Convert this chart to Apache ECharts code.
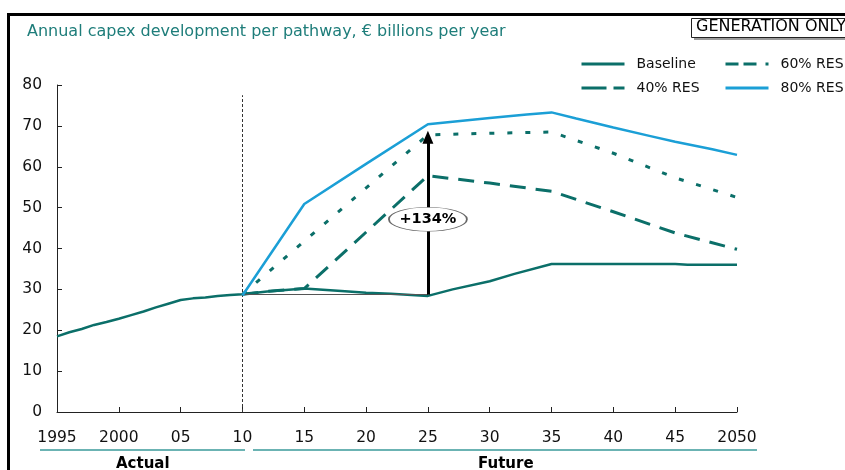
<!DOCTYPE html>
<html>
<head>
<meta charset="utf-8">
<script src="https://cdn.jsdelivr.net/npm/echarts@6/dist/echarts.min.js"></script>
<style>
  html, body { margin: 0; padding: 0; background: #fff; }
  #chart { width: 845px; height: 470px; }
</style>
</head>
<body>
<div id="chart"></div>
<script>
// Year ticks and their printed labels
const xTicks = [1995, 2000, 2005, 2010, 2015, 2020, 2025, 2030, 2035, 2040, 2045, 2050];
const xTickLabels = ['1995', '2000', '05', '10', '15', '20', '25', '30', '35', '40', '45', '2050'];

// Baseline: actual history 1995-2010, then projected path
const baselineYears = [1995, 1996, 1997, 1998, 1999, 2000, 2001, 2002, 2003, 2004, 2005, 2006, 2007, 2008, 2009, 2010,
  2012, 2015, 2018, 2020, 2022, 2025, 2027, 2030, 2032, 2035, 2040, 2045, 2046, 2050];
const baselineValues = [18.5, 19.5, 20.3, 21.3, 22.0, 22.8, 23.7, 24.6, 25.6, 26.5, 27.4, 27.8, 28.0, 28.4, 28.6, 28.8,
  29.5, 30.2, 29.6, 29.2, 28.9, 28.4, 30.0, 32.0, 33.8, 36.2, 36.2, 36.2, 36.0, 36.0];

// 40% RES pathway
const res40Years = [2010, 2012, 2015, 2025, 2030, 2035, 2040, 2045, 2050];
const res40Values = [28.8, 29.5, 30.2, 57.8, 56.0, 54.0, 49.0, 43.8, 39.8];

// 60% RES pathway
const res60Years = [2010, 2025, 2030, 2035, 2040, 2045, 2050];
const res60Values = [28.8, 67.8, 68.2, 68.5, 63.3, 57.3, 52.5];

// 80% RES pathway
const res80Years = [2010, 2015, 2020, 2025, 2027, 2030, 2033, 2035, 2037, 2040, 2043, 2045, 2048, 2050];
const res80Values = [28.5, 50.9, 60.7, 70.4, 71.0, 71.9, 72.8, 73.3, 71.8, 69.6, 67.5, 66.1, 64.3, 62.9];

// Growth arrow in 2025: from the 2010 baseline level up to the 60% RES level
const arrowYear = 2025;
const arrowBase = 28.7;
const arrowTop = 67.2;
const arrowLabel = '+' + Math.round((arrowTop / arrowBase - 1) * 100) + '%';

// Split between actual and future years
const splitYear = 2010;

const TEAL = '#0b6f69';
const BLUE = '#1b9fd6';
const FONT = 'DejaVu Sans, Verdana, sans-serif';

const pairs = (xs, ys) => xs.map((x, i) => [x, ys[i]]);

const chart = echarts.init(document.getElementById('chart'), null, { renderer: 'canvas' });

const legendBase = {
  top: 57, orient: 'vertical', itemGap: 10, padding: 0,
  itemWidth: 43, itemHeight: 14,
  itemStyle: { opacity: 0 },
  textStyle: { fontSize: 14, color: '#111', fontFamily: FONT, padding: [0, 0, 0, 7] }
};

chart.setOption({
  animation: false,
  backgroundColor: '#fff',
  textStyle: { fontFamily: FONT },
  title: {
    text: 'Annual capex development per pathway, € billions per year',
    left: 22, top: 19,
    textStyle: { color: '#1e7d7a', fontSize: 16, fontWeight: 'normal', fontFamily: FONT }
  },
  legend: [
    Object.assign({}, legendBase, {
      left: 580,
      data: [
        { name: 'Baseline', lineStyle: { width: 3 } },
        { name: '40% RES', lineStyle: { type: [25, 7], width: 3 } }
      ]
    }),
    Object.assign({}, legendBase, {
      left: 724,
      data: [
        { name: '60% RES', lineStyle: { type: [13, 5, 13, 9, 3], width: 3 } },
        { name: '80% RES', lineStyle: { width: 3 } }
      ]
    })
  ],
  grid: { left: 57, right: 108, top: 85, bottom: 58, containLabel: false },
  xAxis: {
    type: 'value', min: 1995, max: 2050, interval: 5,
    axisLine: { show: true, lineStyle: { color: '#222', width: 1 } },
    axisTick: { show: true, inside: true, length: 5, lineStyle: { color: '#222' } },
    splitLine: { show: false },
    axisLabel: {
      margin: 18, fontSize: 15.5, color: '#111', fontFamily: FONT,
      formatter: v => { const i = xTicks.indexOf(v); return i >= 0 ? xTickLabels[i] : ''; }
    }
  },
  yAxis: {
    type: 'value', min: 0, max: 80, interval: 10,
    axisLine: { show: true, lineStyle: { color: '#222', width: 1 } },
    axisTick: { show: true, inside: true, length: 5, lineStyle: { color: '#222' } },
    splitLine: { show: false },
    axisLabel: { margin: 15, fontSize: 15.5, color: '#111', fontFamily: FONT }
  },
  series: [
    {
      name: 'Baseline', type: 'line', symbol: 'none', z: 4,
      data: pairs(baselineYears, baselineValues),
      lineStyle: { color: TEAL, width: 2.5 }, itemStyle: { color: TEAL },
      markLine: {
        silent: true, symbol: ['none', 'none'], label: { show: false },
        data: [
          [{ coord: [splitYear, 0], lineStyle: { color: '#333', width: 1, type: [3, 2] } },
           { coord: [splitYear, 77.5] }],
          [{ coord: [splitYear, arrowBase], lineStyle: { color: '#555', width: 1, type: 'solid' } },
           { coord: [arrowYear, arrowBase] }]
        ]
      }
    },
    {
      name: '60% RES', type: 'line', symbol: 'none', z: 3,
      data: pairs(res60Years, res60Values),
      lineStyle: { color: TEAL, width: 3, type: [5, 13] }, itemStyle: { color: TEAL }
    },
    {
      name: '40% RES', type: 'line', symbol: 'none', z: 3,
      data: pairs(res40Years, res40Values),
      lineStyle: { color: TEAL, width: 3, type: [16, 10] }, itemStyle: { color: TEAL }
    },
    {
      name: '80% RES', type: 'line', symbol: 'none', z: 5,
      data: pairs(res80Years, res80Values),
      lineStyle: { color: BLUE, width: 2.5 }, itemStyle: { color: BLUE },
      markLine: {
        silent: true, symbol: ['none', 'triangle'], symbolSize: [11, 13], label: { show: false },
        data: [
          [{ coord: [arrowYear, arrowBase], lineStyle: { color: '#000', width: 3, type: 'solid' } },
           { coord: [arrowYear, arrowTop] }]
        ]
      },
      markPoint: {
        silent: true,
        data: [{
          coord: [arrowYear, (arrowBase + arrowTop) / 2 - 0.8],
          symbol: 'circle', symbolSize: [78, 24],
          itemStyle: { color: '#fff', borderColor: '#666', borderWidth: 1 },
          label: { show: true, formatter: arrowLabel, color: '#000', fontSize: 14.5, fontWeight: 'bold', fontFamily: FONT }
        }]
      }
    }
  ],
  graphic: [
    // frame edges
    { type: 'rect', left: 7, top: 13, shape: { width: 840, height: 3 }, style: { fill: '#000' } },
    { type: 'rect', left: 7, top: 13, shape: { width: 3, height: 460 }, style: { fill: '#000' } },
    // scope tag
    { type: 'rect', left: 694, top: 21, shape: { width: 170, height: 19 }, style: { fill: '#9a9a9a' } },
    { type: 'rect', left: 691, top: 18, shape: { width: 170, height: 19 }, style: { fill: '#fff', stroke: '#222', lineWidth: 1 } },
    { type: 'text', left: 696, top: 19, style: { text: 'GENERATION ONLY', fill: '#000', font: '16px DejaVu Sans, Verdana, sans-serif' } },
    // period brackets
    { type: 'line', shape: { x1: 40, y1: 450, x2: 245, y2: 450 }, style: { stroke: '#3a9a9a', lineWidth: 1.5 } },
    { type: 'line', shape: { x1: 253, y1: 450, x2: 757, y2: 450 }, style: { stroke: '#3a9a9a', lineWidth: 1.5 } },
    { type: 'text', left: 116, top: 457, style: { text: 'Actual', fill: '#000', font: 'bold 15px DejaVu Sans, Verdana, sans-serif' } },
    { type: 'text', left: 478, top: 457, style: { text: 'Future', fill: '#000', font: 'bold 15px DejaVu Sans, Verdana, sans-serif' } }
  ]
});
</script>
</body>
</html>
